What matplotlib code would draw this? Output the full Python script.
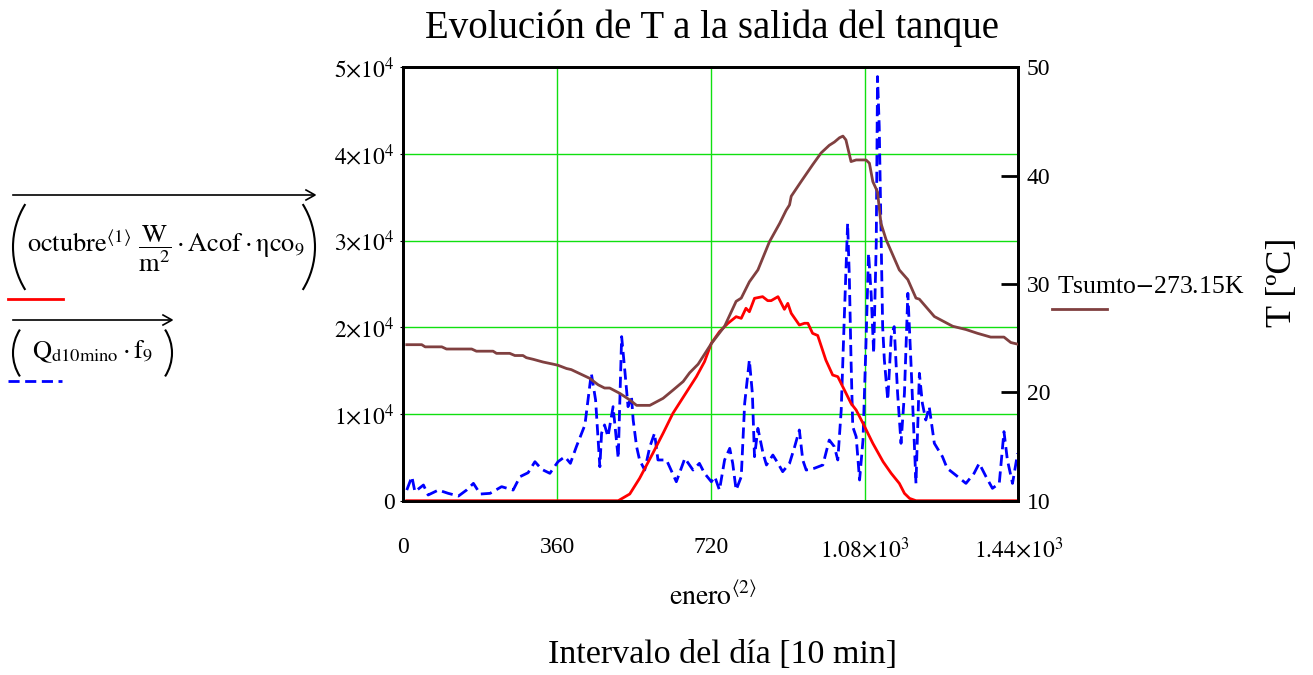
# -*- coding: UTF-8 -*-
import numpy as np
import matplotlib
matplotlib.use('Agg')
import matplotlib.pyplot as plt
from matplotlib.lines import Line2D
from matplotlib.patches import Arc
from matplotlib.transforms import IdentityTransform

# fuente tipo Times, como en Mathcad
plt.rcParams['font.family'] = ['Liberation Serif', 'DejaVu Serif']
plt.rcParams['mathtext.fontset'] = 'stix'
plt.rcParams['mathtext.default'] = 'rm'

# ---- datos ----
# radiación útil del colector (octubre) [W]
rad_t = [8, 503, 530, 553, 584, 608, 631, 651, 686, 705, 721, 740, 760, 779, 791, 802, 810,
         822, 841, 853, 861, 877, 892, 900, 908, 927, 939, 947, 958, 970, 989, 1005, 1017,
         1048, 1060, 1076, 1099, 1123, 1142, 1161, 1173, 1185, 1200, 1440]
rad_v = [0, 0, 775, 2580, 5470, 7780, 10080, 11620, 14310, 16040, 18160, 19500, 20470, 21230,
         21040, 22200, 21800, 23350, 23540, 23080, 23080, 23540, 22080, 22770, 21620, 20270,
         20470, 20470, 19310, 19060, 16230, 14500, 14310, 11230, 10460, 8930, 6620, 4500,
         3160, 2000, 850, 270, 0, 0]

# demanda Qd10mino*f9 [W]
dem_t = [8, 20, 27, 47, 58, 82, 105, 129, 148, 164, 180, 203, 230, 257, 273, 292, 308, 324,
         343, 362, 378, 391, 405, 425, 440, 450, 460, 464, 471, 479, 491, 503, 511, 519, 526,
         534, 538, 546, 553, 565, 577, 588, 596, 616, 639, 659, 678, 693, 705, 721, 729, 740,
         752, 764, 771, 779, 791, 799, 810, 817, 822, 830, 842, 850, 865, 877, 888, 904, 916,
         927, 935, 943, 962, 982, 997, 1009, 1017, 1025, 1032, 1040, 1044, 1048, 1052, 1060,
         1068, 1076, 1083, 1089, 1095, 1101, 1107, 1110, 1114, 1118, 1122, 1126, 1134, 1142,
         1149, 1157, 1165, 1173, 1181, 1188, 1200, 1208, 1215, 1223, 1231, 1243, 1262, 1273,
         1293, 1317, 1336, 1348, 1364, 1379, 1395, 1406, 1414, 1426, 1438]
dem_v = [1230, 2770, 1040, 1810, 660, 1230, 850, 540, 1230, 2000, 770, 850, 1620, 1230, 2770,
         3230, 4500, 3620, 3160, 4500, 5080, 4310, 6230, 8740, 14700, 11620, 3920, 7780, 8740,
         7390, 10850, 4890, 18930, 14700, 10850, 12000, 9310, 6230, 4700, 3540, 6230, 7780,
         4700, 4700, 2190, 4890, 3540, 4310, 3160, 2190, 2770, 1230, 4700, 6040, 4310, 1230,
         2770, 11230, 16230, 12390, 5080, 8350, 5470, 4120, 5270, 4310, 3350, 4310, 6230, 8160,
         4700, 3540, 3740, 4120, 7000, 6230, 4700, 10460, 20850, 32000, 25850, 16230, 8540,
         7390, 2390, 7000, 18160, 28550, 23930, 17010, 29700, 48930, 43160, 31620, 20080,
         16230, 11620, 18930, 20080, 12390, 6620, 12390, 23930, 16230, 2000, 14700, 11230,
         9310, 10850, 6620, 5080, 3740, 2960, 2000, 3160, 4310, 2770, 1430, 2000, 7970, 4700,
         2000, 5470]

# temperatura a la salida del tanque [ºC]
temp_t = [8, 43, 51, 90, 101, 160, 171, 210, 218, 249, 261, 280, 288, 304, 327, 351, 362, 382,
          393, 436, 456, 471, 483, 507, 530, 546, 577, 608, 631, 655, 670, 690, 721, 752, 779,
          791, 810, 830, 857, 881, 896, 904, 908, 931, 958, 978, 997, 1009, 1021, 1029, 1036,
          1048, 1060, 1083, 1091, 1099, 1110, 1118, 1130, 1161, 1181, 1200, 1208, 1243, 1286,
          1317, 1344, 1375, 1406, 1422, 1438]
temp_v = [24.4, 24.4, 24.2, 24.2, 24.0, 24.0, 23.8, 23.8, 23.6, 23.6, 23.4, 23.4, 23.2, 23.05,
          22.8, 22.6, 22.5, 22.2, 22.1, 21.3, 20.7, 20.4, 20.4, 19.9, 19.3, 18.8, 18.8, 19.45,
          20.2, 21.0, 21.8, 22.6, 24.5, 26.1, 28.4, 28.7, 30.2, 31.3, 33.9, 35.6, 36.8, 37.3,
          38.1, 39.45, 41.0, 42.1, 42.8, 43.1, 43.5, 43.65, 43.3, 41.3, 41.45, 41.45, 41.15,
          39.45, 38.5, 35.6, 34.1, 31.3, 30.4, 28.7, 28.6, 27.0, 26.1, 25.8, 25.45, 25.1, 25.1,
          24.6, 24.45]

x_ticks = [0, 360, 720, 1080, 1440]
x_labels = ['0', '360', '720', r'$1.08{\times}10^{3}$', r'$1.44{\times}10^{3}$']
y_ticks = [0, 10000, 20000, 30000, 40000, 50000]
y_labels = ['0'] + [r'$%d{\times}10^{4}$' % k for k in range(1, 6)]
t_ticks = [10, 20, 30, 40, 50]

H = 675  # alto en píxeles, para pasar coordenadas de imagen

# ---- figura ----
fig = plt.figure(figsize=(13.13, 6.75), dpi=100)
ax = fig.add_axes([0.3072, 0.2582, 0.4685, 0.6421])

ax.plot(dem_t, dem_v, color='#0000ff', lw=2, ls=(0, (4, 2)), zorder=3)
ax.plot(rad_t, rad_v, color='#ff0000', lw=2, zorder=4)
ax.set_xlim(0, 1440)
ax.set_ylim(0, 50000)
ax.set_xticks(x_ticks)
ax.set_xticklabels(x_labels)
ax.set_yticks(y_ticks)
ax.set_yticklabels(y_labels)
ax.grid(color='#10e010', lw=1)
ax.tick_params(axis='x', length=0, pad=26, labelsize=17)
ax.tick_params(axis='y', length=2, pad=4, labelsize=17)

ax2 = ax.twinx()
ax2.plot(temp_t, temp_v, color='#804040', lw=2, zorder=5)
ax2.set_ylim(10, 50)
ax2.set_yticks(t_ticks)
ax2.tick_params(axis='y', direction='in', length=12, width=2, pad=6, labelsize=17)

for a in (ax, ax2):
    for s in a.spines.values():
        s.set_linewidth(2)
        s.set_color('black')

# textos
fig.text(0.542, 0.958, 'Evolución de T a la salida del tanque', ha='center', va='center', fontsize=28)
fig.text(0.550, 0.030, 'Intervalo del día [10 min]', ha='center', va='center', fontsize=24.5)
fig.text(0.543, 0.116, r'$\mathrm{enero}^{\langle 2\rangle}$', ha='center', va='center', fontsize=20)
fig.text(0.977, 0.582, 'T [ºC]', ha='center', va='center', rotation=90, fontsize=26)
fig.text(0.805, 0.575, r'Tsumto$-$273.15K', ha='left', va='center', fontsize=18.5)
fig.add_artist(Line2D([0.801, 0.843], [0.542, 0.542], color='#804040', lw=2))

# leyenda de la izquierda (expresiones de Mathcad), en píxeles
px = IdentityTransform()
fig.text(166, H - 249,
         r'$\mathrm{octubre}^{\langle 1\rangle}\ \dfrac{\mathrm{W}}{\mathrm{m}^{2}}\cdot\mathrm{Acof}\cdot\eta\mathrm{co}_{9}$',
         ha='center', va='center', fontsize=19, transform=px)
fig.add_artist(Arc((94, H - 247), 162, 162, theta1=148, theta2=212, lw=1.5, transform=px))
fig.add_artist(Arc((234, H - 247), 162, 162, theta1=-32, theta2=32, lw=1.5, transform=px))
fig.add_artist(Line2D([8, 63], [H - 299, H - 299], color='#ff0000', lw=2, transform=px))

fig.text(93, H - 352, r'$\mathrm{Q}_{\mathrm{d10mino}}\cdot\mathrm{f}_{9}$',
         ha='center', va='center', fontsize=19, transform=px)
fig.add_artist(Arc((56, H - 353), 86, 86, theta1=147, theta2=213, lw=1.5, transform=px))
fig.add_artist(Arc((129, H - 353), 86, 86, theta1=-33, theta2=33, lw=1.5, transform=px))
fig.add_artist(Line2D([8, 62], [H - 381, H - 381], color='#0000ff', lw=2, ls=(0, (4, 2)),
                      transform=px))

# flechas de vector sobre las expresiones
fig.add_artist(Line2D([13, 314], [H - 195, H - 195], color='black', lw=1.2, transform=px))
fig.add_artist(Line2D([306, 315, 306], [H - 190, H - 195, H - 200], color='black', lw=1.2, transform=px))
fig.add_artist(Line2D([13, 171], [H - 320, H - 320], color='black', lw=1.2, transform=px))
fig.add_artist(Line2D([163, 172, 163], [H - 315, H - 320, H - 325], color='black', lw=1.2, transform=px))

fig.savefig('out.png', dpi=100)
